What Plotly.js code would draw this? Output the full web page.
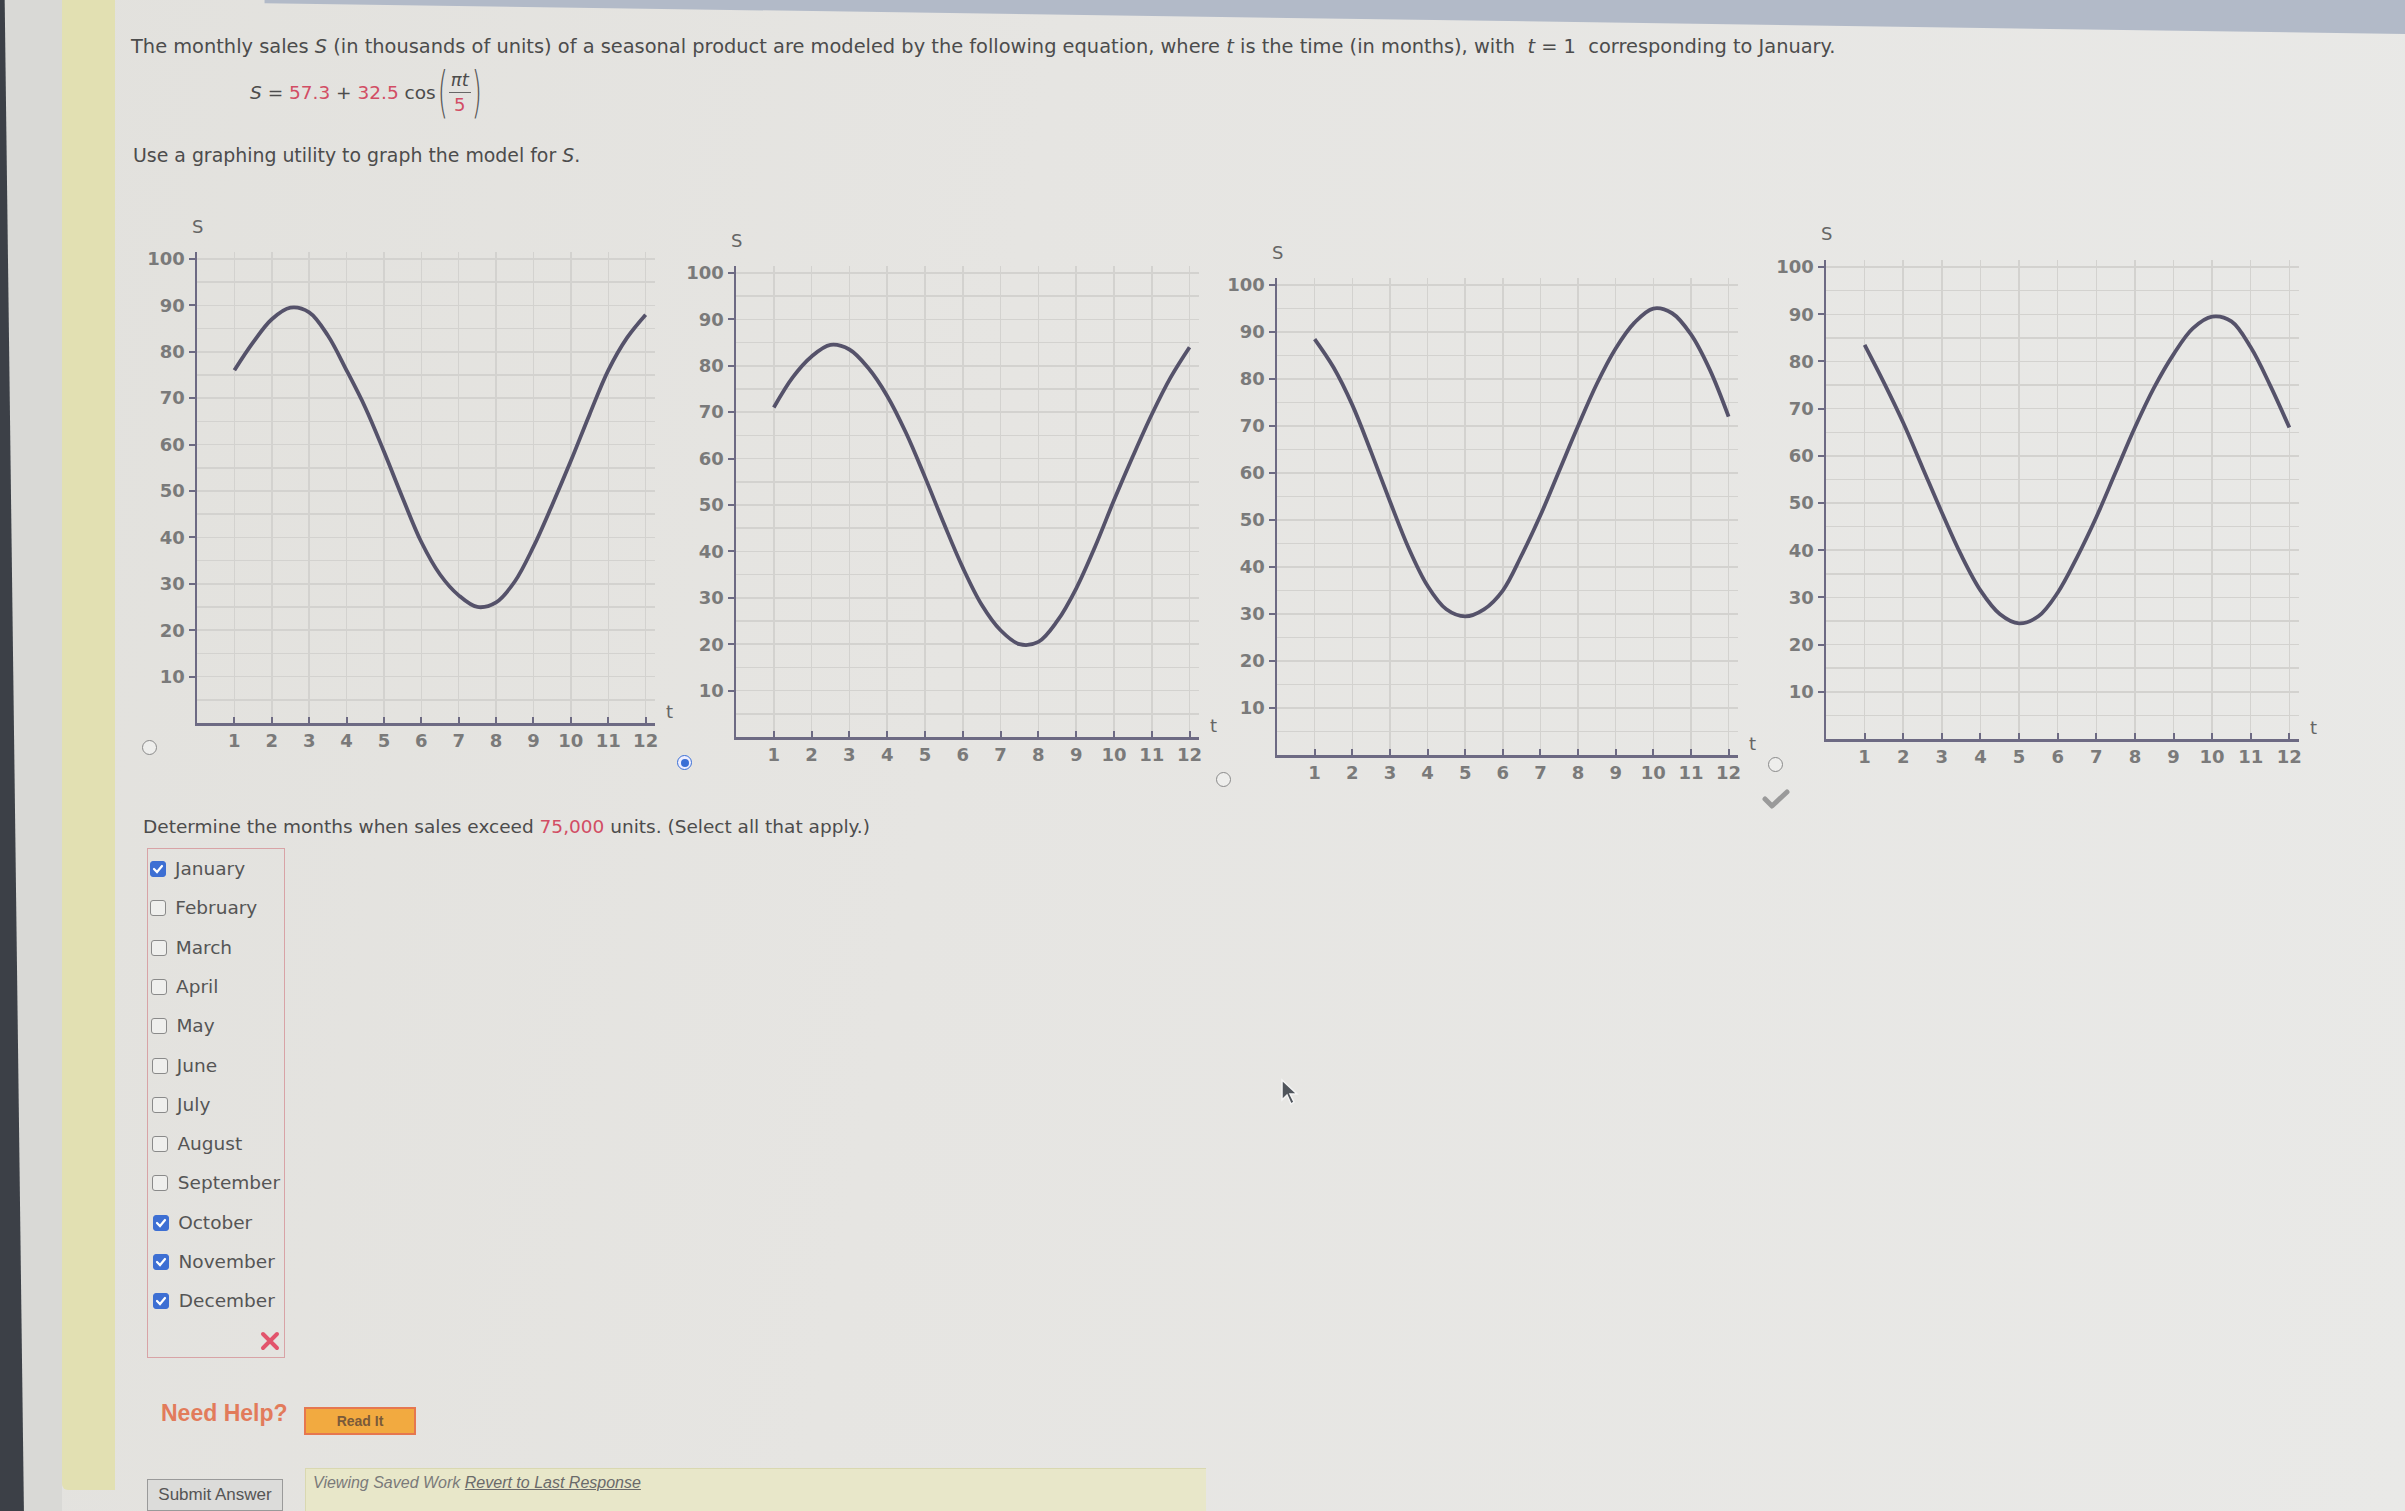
<!DOCTYPE html>
<html><head><meta charset="utf-8">
<script src="https://cdn.plot.ly/plotly-3.0.1.min.js"></script>
<style>
html,body{margin:0;padding:0;width:2405px;height:1511px;overflow:hidden;}
body{position:relative;font-family:"DejaVu Sans",Verdana,sans-serif;color:#4c4c4c;
 background:linear-gradient(100deg,#e2e1dd 0%,#e6e5e2 40%,#e9e9e7 100%);}
.abs{position:absolute;white-space:nowrap;}
.txt{font-size:18.5px;}
.red{color:#d24d64;}
#plot{position:absolute;left:0;top:0;width:2405px;height:1511px;z-index:1;}
.ov{z-index:2;}
.radio{position:absolute;width:13px;height:13px;border:1.5px solid #8a8a8a;border-radius:50%;background:#eeeeec;z-index:2;}
.radio.sel{border-color:#3a6fd6;background:#eef;}
.radio.sel::after{content:"";position:absolute;left:2.5px;top:2.5px;width:8px;height:8px;border-radius:50%;background:#3a6fd6;}
.cb{position:absolute;width:14px;height:14px;border:1.5px solid #8a8a8a;border-radius:3px;background:#efefed;}
.cb.on{background:#3d6fd3;border-color:#3d6fd3;}
.item{position:absolute;font-size:18.5px;color:#555;}
.paren{display:inline-block;font-size:26px;transform:scaleY(2.1);font-weight:200;color:#555;}
</style></head>
<body>
<!-- browser / screen decorations -->
<div class="abs" style="left:0;top:0;width:62px;height:1511px;background:#d9d9d6;"></div>
<div class="abs" style="left:0;top:0;width:26px;height:1511px;background:#3c4047;clip-path:polygon(0 0,18% 0,92% 100%,0 100%);"></div>
<div class="abs" style="left:62px;top:0;width:53px;height:1490px;background:#e2e0b2;border-bottom-left-radius:6px;"></div>
<div class="abs" style="left:0;top:0;width:2405px;height:40px;background:#b2bac8;clip-path:polygon(11% 0,100% 0,100% 85%,11% 8%);"></div>

<!-- question text -->
<div class="abs ov" style="left:131px;top:35px;font-size:19.4px;">The monthly sales <i>S</i> (in thousands of units) of a seasonal product are modeled by the following equation, where <i>t</i> is the time (in months), with &nbsp;<i>t</i> = 1&nbsp; corresponding to January.</div>
<div class="abs txt ov" style="left:250px;top:62px;height:60px;display:flex;align-items:center;">
 <span><i>S</i> = </span><span class="red">&nbsp;57.3</span><span>&nbsp;+&nbsp;</span><span class="red">32.5</span><span>&nbsp;cos</span>
 <span class="paren" style="margin:0 1px 0 2px;">(</span>
 <span style="display:inline-flex;flex-direction:column;align-items:center;font-size:18px;line-height:24px;">
   <span style="border-bottom:1px solid #666;padding:0 2px;"><i>πt</i></span><span class="red">5</span></span>
 <span class="paren" style="margin-left:1px;">)</span>
</div>
<div class="abs ov" style="left:133px;top:144px;font-size:18.9px;">Use a graphing utility to graph the model for <i>S</i>.</div>

<div id="plot"></div>

<!-- radio choices -->
<div class="radio" style="left:142px;top:740px;"></div>
<div class="radio sel" style="left:677px;top:755px;"></div>
<div class="radio" style="left:1216px;top:772px;"></div>
<div class="radio" style="left:1768px;top:757px;"></div>
<svg class="abs ov" style="left:1762px;top:788px;" width="28" height="22" viewBox="0 0 28 22"><path d="M3 11 L10 18 L25 4" stroke="#9a9a9a" stroke-width="5" fill="none" stroke-linecap="round" stroke-linejoin="round"/></svg>

<div class="abs txt ov" style="left:143px;top:816px;">Determine the months when sales exceed <span class="red">75,000</span> units. (Select all that apply.)</div>
<div class="abs ov" style="left:147px;top:848px;width:136px;height:508px;border:1.5px solid #d8a3a6;"></div>
<div id="checks"></div>
<svg class="abs ov" style="left:260px;top:1331px;" width="20" height="20" viewBox="0 0 20 20"><path d="M3 3 L17 17 M17 3 L3 17" stroke="#e2546c" stroke-width="4" stroke-linecap="round"/></svg>

<div class="abs ov" style="left:161px;top:1400px;font-family:'Liberation Sans',Arial,sans-serif;font-weight:bold;font-size:23px;color:#e27b5b;">Need Help?</div>
<div class="abs ov" style="left:304px;top:1407px;width:108px;height:24px;background:#f2aa40;border:2px solid #e6774f;font-family:'Liberation Sans',Arial,sans-serif;font-weight:bold;font-size:14px;color:#7a5a3a;text-align:center;line-height:24px;">Read It</div>

<div class="abs ov" style="left:147px;top:1479px;width:134px;height:30px;background:#dcdcda;border:1.5px solid #9a9a9a;font-family:'Liberation Sans',Arial,sans-serif;font-size:17px;color:#555;text-align:center;line-height:30px;">Submit Answer</div>
<div class="abs ov" style="left:305px;top:1468px;width:900px;height:45px;background:#e8e7c9;border-top:1.5px solid #d9d8b0;border-left:1.5px solid #d9d8b0;"></div>
<div class="abs ov" style="left:313px;top:1474px;font-family:'Liberation Sans',Arial,sans-serif;font-style:italic;font-size:16px;color:#7a7a7a;">Viewing Saved Work <span style="text-decoration:underline;color:#6a6a6a;">Revert to Last Response</span></div>

<svg class="abs ov" style="left:1280px;top:1078px;" width="22" height="30" viewBox="0 0 22 30"><path d="M2 2 L2 22 L7 17 L11 26 L14 24 L10 16 L17 16 Z" fill="#50555c" stroke="#f4f4f4" stroke-width="1.5"/></svg>

<script>
// ---------------- data ----------------
const tValues = [1, 1.5, 2, 2.5, 3, 3.5, 4, 4.5, 5, 5.5, 6, 6.5, 7, 7.5, 8, 8.5, 9, 9.5, 10, 10.5, 11, 11.5, 12];
const salesGraphA = [76, 82, 87, 89.5, 88.5, 83.5, 76, 68, 58.5, 48.5, 39, 32, 27.5, 25, 26, 30.5, 38, 47, 56.5, 66.5, 76, 83, 88];
const salesGraphB = [71, 77.5, 82, 84.5, 83.5, 79.5, 73.5, 65.5, 56, 46, 36.5, 28.5, 23, 20, 20.5, 25, 32, 41, 51, 60.5, 69.5, 77.5, 84];
const salesGraphC = [88.5, 82.5, 74.5, 64.5, 54, 44, 36, 31, 29.5, 31, 35, 42.5, 51, 60.5, 70, 79, 86.5, 92, 95, 94, 89.5, 82, 72];
const salesGraphD = [83.5, 75.5, 67, 57.5, 48, 39, 31.5, 26.5, 24.5, 26, 31, 38.5, 47, 56.5, 66, 74.5, 81.5, 87, 89.5, 88.5, 83, 75, 66];
const tTicks = [1, 2, 3, 4, 5, 6, 7, 8, 9, 10, 11, 12];
const sTicks = [10, 20, 30, 40, 50, 60, 70, 80, 90, 100];
const sMinorGrid = [5, 15, 25, 35, 45, 55, 65, 75, 85, 95];
const months = ["January","February","March","April","May","June","July","August","September","October","November","December"];
const monthChecked = [true,false,false,false,false,false,false,false,false,true,true,true];

// ---------------- checklist ----------------
const checks = document.getElementById('checks');
months.forEach((m, i) => {
  const y = 870 + i * 39.3;
  const b = document.createElement('div');
  b.className = 'cb ov' + (monthChecked[i] ? ' on' : '');
  b.style.left = (150 + i * 0.3) + 'px'; b.style.top = (y - 9) + 'px'; b.style.zIndex = 2;
  if (monthChecked[i]) b.innerHTML = '<svg width="14" height="14" viewBox="0 0 14 14" style="position:absolute;left:0;top:0"><path d="M3 7 L6 10 L11 4" stroke="#fff" stroke-width="2.2" fill="none" stroke-linecap="round"/></svg>';
  checks.appendChild(b);
  const t = document.createElement('div');
  t.className = 'item'; t.style.zIndex = 2;
  t.textContent = m; t.style.left = (175 + i * 0.35) + 'px'; t.style.top = (y - 12) + 'px';
  checks.appendChild(t);
});

// ---------------- charts ----------------
const W = 2405, H = 1511;
const boxes = [ // left, right, bottom(S=0), top (pixels)
  [197, 655, 723, 252],
  [736, 1199, 737, 266],
  [1277, 1738, 755, 278],
  [1826, 2299, 739, 260]
];
const series = [salesGraphA, salesGraphB, salesGraphC, salesGraphD];
const axisCol = '#6d6a83', gridCol = '#d3d2cf', curveCol = '#55526a';
const tickFont = {family: 'DejaVu Sans', size: 18, color: '#7a7a7a', weight: 'bold'};
const layout = {
  width: W, height: H, margin: {l: 0, r: 0, t: 0, b: 0},
  paper_bgcolor: 'rgba(0,0,0,0)', plot_bgcolor: 'rgba(0,0,0,0)',
  showlegend: false, annotations: []
};
const traces = [];
boxes.forEach((bx, i) => {
  const k = i === 0 ? '' : String(i + 1);
  const xa = 'xaxis' + k, ya = 'yaxis' + k;
  layout[xa] = {
    domain: [bx[0] / W, bx[1] / W], anchor: 'y' + k, range: [0, 12.25],
    tickmode: 'array', tickvals: tTicks, ticks: 'inside', ticklen: 6, tickwidth: 2, tickcolor: axisCol,
    showgrid: true, gridcolor: gridCol, gridwidth: 1.5, zeroline: false,
    showline: true, linecolor: axisCol, linewidth: 2.5, tickfont: tickFont, fixedrange: true
  };
  layout[ya] = {
    domain: [1 - bx[2] / H, 1 - bx[3] / H], anchor: 'x' + k, range: [0, 101.5],
    tickmode: 'array', tickvals: sTicks, ticks: 'outside', ticklen: 6, tickwidth: 2, tickcolor: axisCol,
    showgrid: true, gridcolor: gridCol, gridwidth: 1.5, zeroline: false,
    minor: {tickmode: 'array', tickvals: sMinorGrid, showgrid: true, gridcolor: gridCol, gridwidth: 1.5, ticks: ''},
    showline: true, linecolor: axisCol, linewidth: 2.5, tickfont: tickFont, fixedrange: true
  };
  traces.push({
    x: tValues, y: series[i], xaxis: 'x' + k, yaxis: 'y' + k, type: 'scatter', mode: 'lines',
    line: {color: curveCol, width: 3.8, shape: 'spline', smoothing: 1}, hoverinfo: 'skip'
  });
  layout.annotations.push({xref: 'x' + k, yref: 'y' + k, x: 0, y: 101.5, yshift: 26, text: 'S',
    showarrow: false, font: {family: 'DejaVu Sans', size: 18, color: '#666'}});
  layout.annotations.push({xref: 'x' + k, yref: 'y' + k, x: 12.25, y: 0, xshift: 14, yshift: 12, text: 't',
    showarrow: false, font: {family: 'DejaVu Sans', size: 18, color: '#666'}});
});
Plotly.newPlot('plot', traces, layout, {staticPlot: true, displayModeBar: false});
</script>
</body></html>
